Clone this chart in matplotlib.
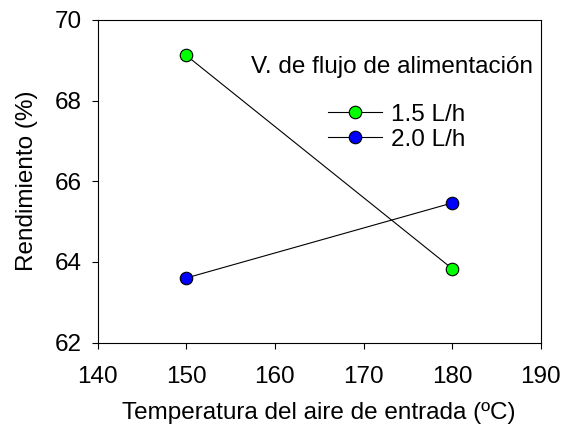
import matplotlib.pyplot as plt

# Data
temperatures = [150, 180]
flow_labels = ['1.5 L/h', '2.0 L/h']
yield_15 = [69.12, 63.83]
yield_20 = [63.60, 65.46]
colors = ['#00ff00', '#0000ff']

plt.rcParams['font.family'] = ['Liberation Sans', 'DejaVu Sans']
fs = 17.5

fig = plt.figure(figsize=(5.64, 4.33), dpi=100)
ax = fig.add_axes([0.173, 0.209, 0.786, 0.745])

for values, label, color in zip([yield_15, yield_20], flow_labels, colors):
    ax.plot(temperatures, values, color='black', linewidth=0.8,
            marker='o', markersize=9, markerfacecolor=color,
            markeredgecolor='black', markeredgewidth=0.8, label=label)

ax.set_xlim(140, 190)
ax.set_ylim(62, 70)
ax.set_xticks([140, 150, 160, 170, 180, 190])
ax.set_yticks([62, 64, 66, 68, 70])
ax.tick_params(direction='out', length=4.5, width=0.8, labelsize=fs)
ax.tick_params(axis='x', pad=12.5)
ax.tick_params(axis='y', pad=7)

ax.set_xlabel('Temperatura del aire de entrada (ºC)', fontsize=fs, labelpad=10)
ax.set_ylabel('Rendimiento (%)', fontsize=fs, labelpad=12)

for spine in ax.spines.values():
    spine.set_linewidth(0.8)

# legend title drawn separately to match the wider gap above the entries
ax.text(0.665, 0.855, 'V. de flujo de alimentación', transform=ax.transAxes,
        ha='center', va='center', fontsize=fs)
ax.legend(frameon=False, fontsize=fs, loc='upper left',
          bbox_to_anchor=(0.52, 0.74), borderaxespad=0, borderpad=0,
          handlelength=2.2, handletextpad=0.4, labelspacing=0.12)

fig.savefig('out.png', dpi=100)
